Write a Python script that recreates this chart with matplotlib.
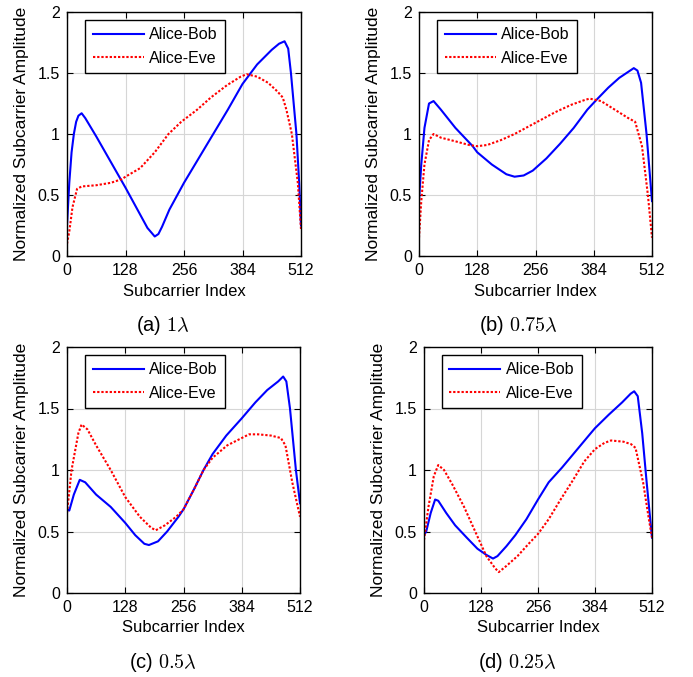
import matplotlib
matplotlib.use("Agg")
import matplotlib.pyplot as plt

plt.rcParams["font.family"] = ["Liberation Sans", "DejaVu Sans"]
plt.rcParams["mathtext.fontset"] = "cm"

# (a) 1 lambda
a_bob_x = [0, 5, 10, 15, 20, 25, 32, 40, 64, 96, 128, 160, 176, 192, 200, 208, 224, 256, 288, 320, 352, 384, 416, 448, 464, 476, 484, 490, 496, 502, 508, 512]
a_bob_y = [0.25, 0.6, 0.85, 1.0, 1.1, 1.15, 1.17, 1.13, 0.98, 0.77, 0.56, 0.34, 0.23, 0.16, 0.18, 0.24, 0.38, 0.6, 0.8, 1.0, 1.2, 1.41, 1.57, 1.69, 1.74, 1.76, 1.7, 1.5, 1.25, 1.0, 0.6, 0.25]
a_eve_x = [0, 5, 12, 22, 32, 64, 96, 120, 128, 160, 192, 222, 250, 285, 315, 350, 380, 393, 416, 440, 460, 472, 480, 492, 505, 512]
a_eve_y = [0.1, 0.2, 0.4, 0.55, 0.57, 0.58, 0.6, 0.63, 0.65, 0.72, 0.85, 1.0, 1.1, 1.2, 1.3, 1.4, 1.47, 1.49, 1.47, 1.42, 1.35, 1.3, 1.2, 1.0, 0.6, 0.22]

# (b) 0.75 lambda
b_bob_x = [0, 5, 12, 22, 32, 48, 80, 118, 128, 160, 192, 210, 230, 250, 280, 310, 340, 370, 390, 416, 440, 464, 472, 480, 488, 500, 512]
b_bob_y = [0.45, 0.75, 1.05, 1.25, 1.27, 1.2, 1.05, 0.9, 0.85, 0.75, 0.67, 0.65, 0.66, 0.7, 0.8, 0.92, 1.05, 1.2, 1.28, 1.38, 1.46, 1.52, 1.54, 1.52, 1.42, 1.0, 0.45]
b_eve_x = [0, 5, 12, 22, 32, 48, 80, 110, 128, 150, 180, 210, 240, 270, 300, 335, 365, 375, 400, 430, 460, 475, 490, 503, 512]
b_eve_y = [0.15, 0.45, 0.75, 0.95, 1.0, 0.97, 0.94, 0.91, 0.9, 0.91, 0.95, 1.0, 1.06, 1.12, 1.18, 1.24, 1.28, 1.29, 1.27, 1.2, 1.13, 1.1, 0.9, 0.5, 0.15]

# (c) 0.5 lambda
c_bob_x = [0, 5, 15, 28, 40, 64, 96, 128, 150, 170, 180, 200, 220, 245, 256, 280, 300, 320, 350, 384, 414, 440, 464, 475, 482, 490, 503, 512]
c_bob_y = [0.68, 0.67, 0.8, 0.92, 0.9, 0.8, 0.7, 0.57, 0.47, 0.4, 0.39, 0.42, 0.5, 0.62, 0.68, 0.85, 1.0, 1.13, 1.28, 1.42, 1.55, 1.65, 1.72, 1.76, 1.72, 1.5, 1.0, 0.73]
c_eve_x = [0, 10, 25, 32, 45, 64, 96, 128, 160, 185, 195, 215, 240, 256, 280, 300, 320, 352, 384, 400, 420, 448, 470, 480, 495, 512]
c_eve_y = [0.65, 1.0, 1.3, 1.37, 1.33, 1.2, 1.0, 0.78, 0.62, 0.53, 0.51, 0.55, 0.62, 0.68, 0.85, 1.0, 1.1, 1.2, 1.26, 1.29, 1.29, 1.28, 1.26, 1.2, 0.9, 0.62]

# (d) 0.25 lambda
d_bob_x = [0, 5, 15, 25, 32, 50, 70, 96, 120, 140, 155, 165, 185, 205, 230, 256, 280, 310, 340, 370, 384, 415, 445, 464, 472, 480, 490, 500, 512]
d_bob_y = [0.47, 0.5, 0.65, 0.76, 0.75, 0.65, 0.55, 0.45, 0.36, 0.31, 0.28, 0.3, 0.38, 0.47, 0.6, 0.76, 0.9, 1.02, 1.15, 1.28, 1.34, 1.45, 1.55, 1.62, 1.64, 1.6, 1.3, 0.9, 0.45]
d_eve_x = [0, 10, 22, 32, 45, 64, 90, 115, 140, 160, 168, 185, 210, 235, 256, 280, 305, 335, 360, 384, 405, 420, 448, 465, 475, 492, 505, 512]
d_eve_y = [0.43, 0.7, 0.95, 1.04, 1.0, 0.88, 0.7, 0.5, 0.3, 0.2, 0.17, 0.22, 0.3, 0.4, 0.48, 0.6, 0.75, 0.92, 1.07, 1.17, 1.22, 1.24, 1.23, 1.21, 1.18, 0.9, 0.6, 0.45]

captions = ["(a) $1\\lambda$", "(b) $0.75\\lambda$", "(c) $0.5\\lambda$", "(d) $0.25\\lambda$"]
xticks = [0, 128, 256, 384, 512]
yticks = [0, 0.5, 1, 1.5, 2]
ytick_labels = ["0", "0.5", "1", "1.5", "2"]

W, H = 693, 677
# axes boxes in pixels: left, top, right, bottom
boxes = [(67, 12, 301, 256), (419, 12, 652, 256), (67, 347, 300, 593), (424, 347, 652, 593)]
caption_pos = [(163, 326), (519, 326), (163, 663), (518, 663)]

data = [
    (a_bob_x, a_bob_y, a_eve_x, a_eve_y),
    (b_bob_x, b_bob_y, b_eve_x, b_eve_y),
    (c_bob_x, c_bob_y, c_eve_x, c_eve_y),
    (d_bob_x, d_bob_y, d_eve_x, d_eve_y),
]


def main():
    fig = plt.figure(figsize=(W / 100, H / 100), dpi=100)
    for i, (bx, by, ex, ey) in enumerate(data):
        l, t, r, b = boxes[i]
        ax = fig.add_axes([l / W, 1 - b / H, (r - l) / W, (b - t) / H])
        ax.plot(bx, by, color="#0000ff", lw=1.5, label="Alice-Bob")
        ax.plot(ex, ey, color="#ff0000", lw=1.5, ls=(0, (1.1, 0.9)), label="Alice-Eve")
        ax.set_xlim(0, 512)
        ax.set_ylim(0, 2)
        ax.set_xticks(xticks)
        ax.set_yticks(yticks)
        ax.set_yticklabels(ytick_labels)
        ax.tick_params(direction="in", labelsize=11.5, length=4, top=True, right=True, pad=5)
        ax.grid(True, color="#d6d6d6", lw=0.8)
        for s in ax.spines.values():
            s.set_linewidth(1.0)
        ax.set_xlabel("Subcarrier Index", fontsize=12, labelpad=4)
        ax.set_ylabel("Normalized Subcarrier Amplitude", fontsize=12.5, labelpad=6)
        leg = ax.legend(loc="upper left", bbox_to_anchor=(0.065, 0.98), fontsize=11.5,
                        fancybox=False, framealpha=1, edgecolor="black",
                        handlelength=3.2, handletextpad=0.35, borderpad=0.45,
                        labelspacing=0.55, borderaxespad=0.2)
        leg.get_frame().set_linewidth(1.0)
        cx, cy = caption_pos[i]
        fig.text(cx / W, 1 - cy / H, captions[i], ha="center", va="center", fontsize=14.5)
    fig.savefig("out.png", dpi=100)


if __name__ == "__main__":
    main()
